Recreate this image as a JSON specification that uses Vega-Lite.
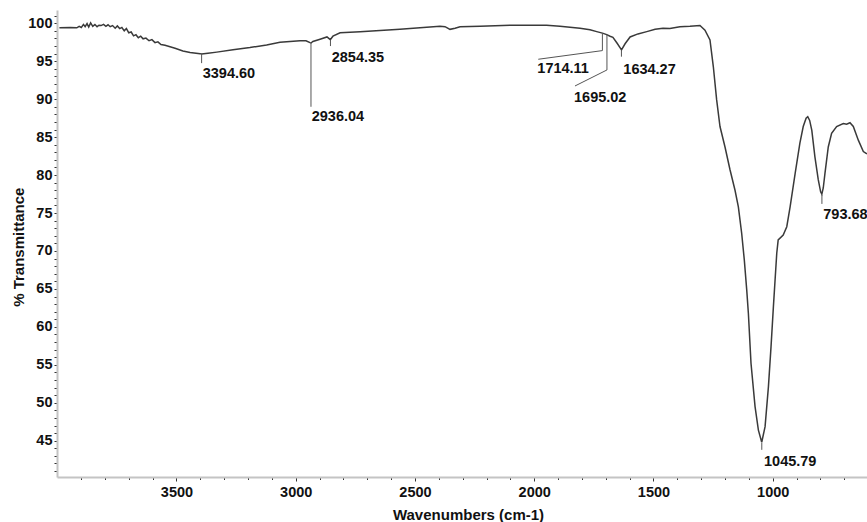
{
  "$schema": "https://vega.github.io/schema/vega-lite/v6.json",
  "width": 810,
  "height": 467,
  "autosize": {"type": "none"},
  "padding": {"left": 57, "top": 10, "right": 0, "bottom": 45},
  "background": "white",
  "config": {
    "view": {"stroke": null},
    "font": "Liberation Sans",
    "axis": {
      "grid": false,
      "domainColor": "#c4c4c4",
      "domainWidth": 2,
      "tickColor": "#333333",
      "tickWidth": 1,
      "labelFont": "Liberation Sans",
      "labelFontWeight": "bold",
      "labelFontSize": 14.5,
      "labelColor": "#111111",
      "titleFont": "Liberation Sans",
      "titleFontWeight": "bold",
      "titleFontSize": 15,
      "titleColor": "#111111",
      "labelOverlap": false,
      "labelFlush": false,
      "labelBound": false
    }
  },
  "datasets": {
    "spectrum": [
      {"wn": 3991, "t": 99.42}, {"wn": 3946, "t": 99.45}, {"wn": 3918, "t": 99.4}, {"wn": 3908, "t": 99.6},
      {"wn": 3899, "t": 99.45}, {"wn": 3890, "t": 99.85}, {"wn": 3883, "t": 99.55}, {"wn": 3875, "t": 99.95},
      {"wn": 3868, "t": 99.5}, {"wn": 3860, "t": 100.05}, {"wn": 3851, "t": 99.6}, {"wn": 3842, "t": 99.85},
      {"wn": 3833, "t": 99.55}, {"wn": 3825, "t": 99.75}, {"wn": 3816, "t": 99.7}, {"wn": 3806, "t": 99.85},
      {"wn": 3796, "t": 99.6}, {"wn": 3787, "t": 99.8}, {"wn": 3778, "t": 99.55}, {"wn": 3768, "t": 99.7},
      {"wn": 3757, "t": 99.35}, {"wn": 3748, "t": 99.65}, {"wn": 3738, "t": 99.3}, {"wn": 3729, "t": 99.45},
      {"wn": 3719, "t": 99.0}, {"wn": 3710, "t": 99.3}, {"wn": 3700, "t": 98.75}, {"wn": 3690, "t": 98.85},
      {"wn": 3680, "t": 98.35}, {"wn": 3670, "t": 98.5}, {"wn": 3660, "t": 98.1}, {"wn": 3650, "t": 98.3},
      {"wn": 3640, "t": 97.95}, {"wn": 3628, "t": 98.05}, {"wn": 3615, "t": 97.7}, {"wn": 3603, "t": 97.85},
      {"wn": 3590, "t": 97.45}, {"wn": 3578, "t": 97.55}, {"wn": 3565, "t": 97.2}, {"wn": 3548, "t": 97.1},
      {"wn": 3527, "t": 96.9}, {"wn": 3506, "t": 96.7}, {"wn": 3473, "t": 96.35}, {"wn": 3443, "t": 96.15},
      {"wn": 3401, "t": 96.0}, {"wn": 3394.6, "t": 95.95}, {"wn": 3368, "t": 96.05}, {"wn": 3331, "t": 96.2},
      {"wn": 3263, "t": 96.5}, {"wn": 3192, "t": 96.8}, {"wn": 3122, "t": 97.15}, {"wn": 3066, "t": 97.5},
      {"wn": 2982, "t": 97.7}, {"wn": 2957, "t": 97.7}, {"wn": 2940, "t": 97.45}, {"wn": 2936, "t": 97.4},
      {"wn": 2928, "t": 97.6}, {"wn": 2898, "t": 97.9}, {"wn": 2869, "t": 98.2}, {"wn": 2855, "t": 97.85},
      {"wn": 2844, "t": 98.3}, {"wn": 2814, "t": 98.75}, {"wn": 2730, "t": 98.9}, {"wn": 2563, "t": 99.2},
      {"wn": 2395, "t": 99.6}, {"wn": 2374, "t": 99.55}, {"wn": 2353, "t": 99.2}, {"wn": 2332, "t": 99.35},
      {"wn": 2311, "t": 99.55}, {"wn": 2227, "t": 99.6}, {"wn": 2089, "t": 99.75}, {"wn": 1948, "t": 99.73},
      {"wn": 1892, "t": 99.6}, {"wn": 1808, "t": 99.35}, {"wn": 1766, "t": 99.15}, {"wn": 1738, "t": 98.9},
      {"wn": 1714, "t": 98.7}, {"wn": 1696, "t": 98.5}, {"wn": 1682, "t": 98.3}, {"wn": 1670, "t": 98.15},
      {"wn": 1653, "t": 97.4}, {"wn": 1634, "t": 96.5}, {"wn": 1619, "t": 97.3}, {"wn": 1598, "t": 98.2},
      {"wn": 1565, "t": 98.6}, {"wn": 1528, "t": 98.9}, {"wn": 1493, "t": 99.2}, {"wn": 1460, "t": 99.34},
      {"wn": 1431, "t": 99.3}, {"wn": 1389, "t": 99.55}, {"wn": 1347, "t": 99.6}, {"wn": 1305, "t": 99.7},
      {"wn": 1284, "t": 99.1}, {"wn": 1263, "t": 97.8}, {"wn": 1249, "t": 94.3}, {"wn": 1235, "t": 89.9},
      {"wn": 1221, "t": 86.4}, {"wn": 1200, "t": 83.7}, {"wn": 1179, "t": 80.7}, {"wn": 1158, "t": 78.0},
      {"wn": 1144, "t": 75.8}, {"wn": 1130, "t": 72.3}, {"wn": 1119, "t": 68.8}, {"wn": 1109, "t": 64.9},
      {"wn": 1102, "t": 61.8}, {"wn": 1091, "t": 55.2}, {"wn": 1074, "t": 49.5}, {"wn": 1060, "t": 46.4},
      {"wn": 1046, "t": 44.8}, {"wn": 1032, "t": 46.85}, {"wn": 1018, "t": 52.1}, {"wn": 1007, "t": 57.4},
      {"wn": 997, "t": 62.7}, {"wn": 990, "t": 66.2}, {"wn": 983, "t": 69.7}, {"wn": 977, "t": 71.45},
      {"wn": 956, "t": 72.1}, {"wn": 941, "t": 73.2}, {"wn": 927, "t": 75.8}, {"wn": 906, "t": 80.2},
      {"wn": 886, "t": 84.2}, {"wn": 872, "t": 86.4}, {"wn": 860, "t": 87.5}, {"wn": 853, "t": 87.7},
      {"wn": 845, "t": 87.2}, {"wn": 836, "t": 85.9}, {"wn": 823, "t": 82.4}, {"wn": 809, "t": 79.4},
      {"wn": 799, "t": 77.8}, {"wn": 794, "t": 77.5}, {"wn": 788, "t": 78.3}, {"wn": 781, "t": 80.2},
      {"wn": 767, "t": 83.7}, {"wn": 753, "t": 85.5}, {"wn": 732, "t": 86.4}, {"wn": 704, "t": 86.8},
      {"wn": 690, "t": 86.7}, {"wn": 676, "t": 86.9}, {"wn": 662, "t": 86.4}, {"wn": 641, "t": 84.6},
      {"wn": 620, "t": 83.1}, {"wn": 605, "t": 82.8}
    ],
    "leaders": [
      {"wn": 3394.6, "t": 96.0, "wn2": 3394.6, "t2": 94.75},
      {"wn": 2936.04, "t": 97.4, "wn2": 2936.04, "t2": 89.0},
      {"wn": 2854.35, "t": 97.8, "wn2": 2854.35, "t2": 97.0},
      {"wn": 1714.11, "t": 98.7, "wn2": 1714.11, "t2": 96.4},
      {"wn": 1714.11, "t": 96.4, "wn2": 1983, "t2": 95.26},
      {"wn": 1695.02, "t": 98.5, "wn2": 1695.02, "t2": 93.85},
      {"wn": 1695.02, "t": 93.85, "wn2": 1829, "t2": 91.74},
      {"wn": 1634.27, "t": 96.45, "wn2": 1634.27, "t2": 95.6},
      {"wn": 1045.79, "t": 44.7, "wn2": 1045.79, "t2": 43.8},
      {"wn": 793.68, "t": 77.4, "wn2": 793.68, "t2": 76.2}
    ],
    "labels": [
      {"wn": 3390.0, "t": 92.75, "label": "3394.60"},
      {"wn": 2849.1, "t": 94.94, "label": "2854.35"},
      {"wn": 2933.0, "t": 87.17, "label": "2936.04"},
      {"wn": 1987.0, "t": 93.41, "label": "1714.11"},
      {"wn": 1833.1, "t": 89.67, "label": "1695.02"},
      {"wn": 1626.4, "t": 93.32, "label": "1634.27"},
      {"wn": 787.8, "t": 74.18, "label": "793.68"},
      {"wn": 1036.5, "t": 41.67, "label": "1045.79"}
    ]
  },
  "encoding": {
    "x": {
      "field": "wn", "type": "quantitative",
      "scale": {"domain": [604.6, 4001], "reverse": true, "nice": false, "zero": false},
      "axis": {
        "title": "Wavenumbers (cm-1)",
        "values": [700, 800, 900, 1000, 1100, 1200, 1300, 1400, 1500, 1600, 1700, 1800, 1900, 2000, 2100, 2200, 2300, 2400, 2500, 2600, 2700, 2800, 2900, 3000, 3100, 3200, 3300, 3400, 3500, 3600, 3700, 3800, 3900],
        "labelExpr": "datum.value % 500 === 0 ? datum.label : ''",
        "format": "d",
        "tickSize": {"condition": {"test": "datum.value % 500 === 0", "value": 4}, "value": 2.5},
        "labelPadding": 4,
        "titleX": 411,
        "titleY": 42,
        "titleBaseline": "alphabetic",
        "titleAlign": "center"
      }
    },
    "y": {
      "field": "t", "type": "quantitative",
      "scale": {"domain": [40.22, 101.75], "nice": false, "zero": false},
      "axis": {
        "title": "% Transmittance",
        "values": [41, 42, 43, 44, 45, 46, 47, 48, 49, 50, 51, 52, 53, 54, 55, 56, 57, 58, 59, 60, 61, 62, 63, 64, 65, 66, 67, 68, 69, 70, 71, 72, 73, 74, 75, 76, 77, 78, 79, 80, 81, 82, 83, 84, 85, 86, 87, 88, 89, 90, 91, 92, 93, 94, 95, 96, 97, 98, 99, 100, 101],
        "labelExpr": "datum.value % 5 === 0 ? datum.label : ''",
        "format": "d",
        "tickSize": 3,
        "labelPadding": 2,
        "titleX": -39,
        "titleY": 236.7,
        "titleAngle": -90,
        "titleBaseline": "middle",
        "titleAlign": "center"
      }
    }
  },
  "layer": [
    {
      "data": {"name": "spectrum"},
      "mark": {"type": "line", "color": "#3a3a3a", "strokeWidth": 1.5, "clip": true}
    },
    {
      "data": {"name": "leaders"},
      "mark": {"type": "rule", "color": "#555555", "strokeWidth": 1},
      "encoding": {
        "x2": {"field": "wn2"},
        "y2": {"field": "t2"}
      }
    },
    {
      "data": {"name": "labels"},
      "mark": {"type": "text", "align": "left", "baseline": "alphabetic", "font": "Liberation Sans", "fontWeight": "bold", "fontSize": 14.5, "color": "#111111"},
      "encoding": {
        "text": {"field": "label"}
      }
    }
  ]
}
